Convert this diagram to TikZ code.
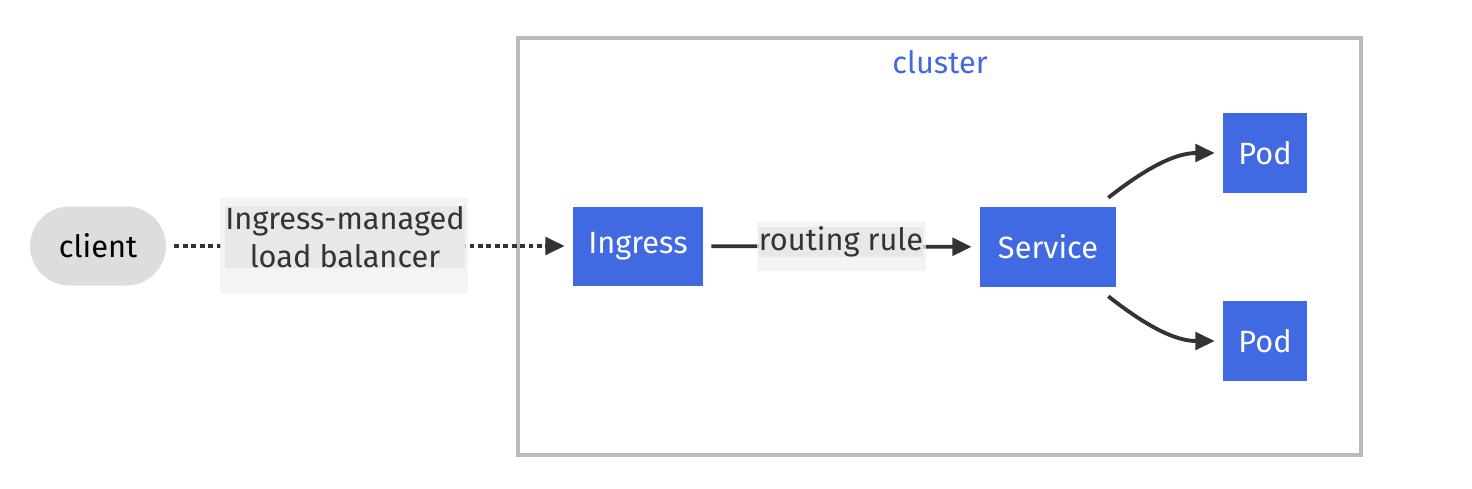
\documentclass[tikz,border=0pt]{standalone}
\usepackage{xcolor}
\usepackage{fontspec}
\setmainfont{Fira Sans}
\usepackage{tikz}
\usetikzlibrary{positioning, arrows.meta}
\definecolor{royalblue}{HTML}{4169E1}
\definecolor{clientgray}{HTML}{DDDDDD}
\definecolor{edgegray}{HTML}{333333}
\definecolor{labelgray}{HTML}{E8E8E8}
\definecolor{labelout}{HTML}{F0F0F0}
\definecolor{clustergray}{HTML}{BBBBBB}
\tikzset{
    block/.style={
        fill = royalblue, text = white,
        minimum width = 2.6cm,
        minimum height = 1.6cm,
        align = center, inner sep = 0pt
    },
    clientbox/.style={
        fill = clientgray, text = black,
        rounded corners = 0.79cm,
        minimum width = 2.72cm,
        minimum height = 1.58cm,
        inner sep = 0pt
    },
    edgelabel/.style={
        fill = labelgray, text = edgegray,
        align = center, inner sep = 0pt
    },
    labelbox/.style = {fill = labelout, fill opacity = 0.75},
    line/.style = {draw = edgegray, line width = 2.2pt,
        -{Triangle[length = 11pt, width = 10pt]},
        shorten > = 0.16cm, shorten < = 0.16cm},
    dotline/.style = {line, dash pattern = on 2.8pt off 2pt}
}
\begin{document}
\begin{tikzpicture}[x = 0.02cm, y = -0.02cm, font = \fontsize{17.5}{21.6}\selectfont]
    \useasboundingbox (0,0) rectangle (1472,488);

    % Cluster frame
    \draw[clustergray, line width = 2pt] (518,38) rectangle (1361,455);
    \node[text = royalblue] (clusterlabel) at (940,62) {cluster};

    % Nodes
    \node[clientbox] (client) at (98,246) {client};
    \node[block, minimum width = 2.6cm, minimum height = 1.58cm] (ingress) at (638,246) {Ingress};
    \node[block, minimum width = 2.72cm] (service) at (1048,247) {Service};
    \node[block, minimum width = 1.68cm] (podA) at (1265,153) {Pod};
    \node[block, minimum width = 1.68cm] (podB) at (1265,341) {Pod};

    % Edges
    \draw[dotline] (client) -- (ingress);
    \draw[line] (ingress) -- (service);
    \draw[line, shorten < = 0pt] ([xshift = -0.16cm, yshift = 0.18cm]service.north east)
        to[out = 38, in = 180] (podA);
    \draw[line, shorten < = 0pt] ([xshift = -0.16cm, yshift = -0.18cm]service.south east)
        to[out = -38, in = 180] (podB);

    % Labels
    \fill[labelbox] (220,198) rectangle (468,294);
    \node[edgelabel] (lblb) at (345,237) {Ingress-managed\\load balancer};
    \fill[labelbox] (757,222) rectangle (926,271);
    \node[edgelabel] (lbroute) at (841,242) {routing rule};

\end{tikzpicture}
\end{document}
